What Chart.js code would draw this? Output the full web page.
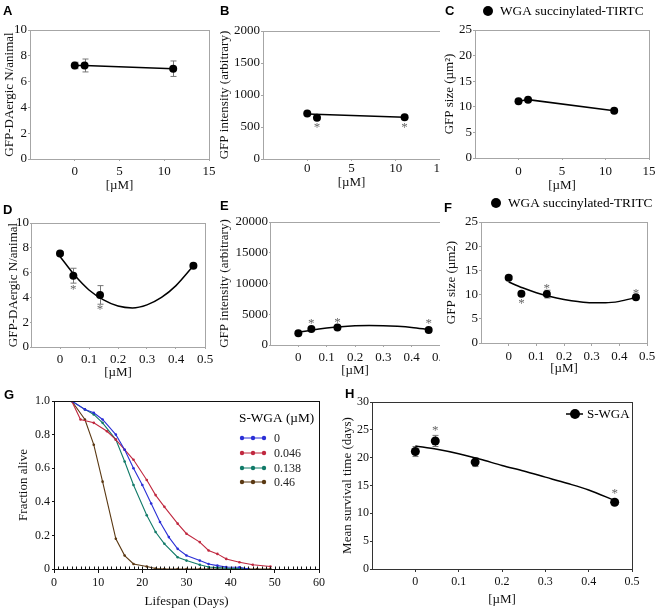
<!DOCTYPE html>
<html>
<head>
<meta charset="utf-8">
<script src="https://cdn.jsdelivr.net/npm/chart.js@4.4.1/dist/chart.umd.min.js"></script>
<style>
body { margin: 0; background: #fff; width: 661px; height: 609px; position: relative; overflow: hidden; }
canvas { position: absolute; }
</style>
</head>
<body>
<canvas id="cA"></canvas><canvas id="cB"></canvas><canvas id="cC"></canvas>
<canvas id="cD"></canvas><canvas id="cE"></canvas><canvas id="cF"></canvas>
<canvas id="cG"></canvas><canvas id="cH"></canvas>
<script>
// top row doses (uM)
const doseTop = [0, 1.1, 11];
const aMean = [7.25, 7.25, 7.0];
const aErr = [0.25, 0.5, 0.6];
const bMean = [712, 645, 652];
const bFitX = [0, 11];
const bFitY = [702, 652];
const bStarX = [1.1, 11];
const bStarY = [525, 525];
const cMean = [11.1, 11.4, 9.25];

// middle row + H doses
const dose = [0, 0.046, 0.138, 0.46];
const dMean = [7.55, 5.75, 4.2, 6.55];
const dErr = [0.15, 0.6, 0.75, 0.15];
const dStarX = [0.046, 0.138];
const dStarY = [4.85, 3.25];
const eMean = [1900, 2600, 2850, 2450];
const eErr = [0, 0, 0, 0];
const eStarX = [0.046, 0.138, 0.46];
const eStarY = [3850, 4100, 3850];
const fMean = [13.5, 10.2, 10.1, 9.45];
const fErr = [0.3, 0.4, 0.8, 0.3];
const fStarX = [0.046, 0.138, 0.46];
const fStarY = [8.65, 11.85, 10.8];
const hMean = [21.1, 23.0, 19.2, 12.0];
const hErr = [0.9, 1.0, 0.8, 0.4];
const hStarX = [0.046, 0.46];
const hStarY = [25.4, 14.0];

// fitted curves
const fitX = [0, 0.05, 0.1, 0.15, 0.2, 0.25, 0.3, 0.35, 0.4, 0.46];
const dFit = [7.3, 5.8, 4.6, 3.8, 3.3, 3.15, 3.4, 4.0, 4.95, 6.55];
const eFit = [2050, 2450, 2750, 2980, 3120, 3180, 3150, 3040, 2860, 2500];
const fFit = [12.6, 11.4, 10.4, 9.6, 9.0, 8.55, 8.3, 8.3, 8.6, 9.4];
const hFit = [22.1, 21.5, 20.7, 19.7, 18.6, 17.6, 16.5, 15.4, 14.2, 12.3];

// G survival curves
const gNames = ['0', '0.046', '0.138', '0.46'];
const gColors = ['#2b2fd6', '#c0283f', '#117a68', '#5a3812'];
const gDays = [
  [4, 7, 9, 11, 14, 16, 18, 20, 22, 24, 26, 28, 30, 33, 35, 37, 39, 42, 44],
  [4, 6, 9, 12, 14, 16, 18, 21, 23, 25, 28, 30, 33, 35, 37, 39, 42, 45, 49],
  [4, 7, 9, 11, 14, 16, 18, 21, 23, 25, 28, 30, 33, 35, 37, 39, 42, 44],
  [4, 7, 9, 11, 14, 16, 18, 21, 23, 25, 28, 30, 33, 35, 37, 39, 42, 44, 46, 49]
];
const gAlive = [
  [1.0, 0.95, 0.93, 0.89, 0.80, 0.71, 0.60, 0.50, 0.39, 0.28, 0.19, 0.12, 0.08, 0.05, 0.03, 0.02, 0.012, 0.01, 0.0],
  [1.0, 0.89, 0.87, 0.82, 0.77, 0.71, 0.65, 0.53, 0.44, 0.37, 0.27, 0.21, 0.16, 0.11, 0.09, 0.06, 0.04, 0.025, 0.015],
  [1.0, 0.95, 0.92, 0.87, 0.77, 0.64, 0.50, 0.32, 0.22, 0.15, 0.07, 0.05, 0.025, 0.012, 0.008, 0.005, 0.003, 0.0],
  [1.0, 0.89, 0.74, 0.52, 0.18, 0.08, 0.03, 0.015, 0.003, 0, 0, 0, 0, 0, 0, 0, 0, 0, 0, 0]
];

const serif = "'Liberation Serif', 'Times New Roman', serif";
const sans = "'Liberation Sans', Arial, sans-serif";
const pts = (xs, ys) => xs.map((x, i) => ({x: x, y: ys[i]}));

const extras = {};
const extrasPlugin = {
  id: 'extras',
  beforeDatasetsDraw(chart) {
    const e = extras[chart.canvas.id];
    if (!e.err) return;
    const {ctx, scales: {x, y}} = chart;
    ctx.save();
    ctx.strokeStyle = '#777';
    ctx.lineWidth = 1;
    e.err.x.forEach((xv, i) => {
      const d = e.err.e[i];
      if (!d) return;
      const px = Math.round(x.getPixelForValue(xv)) + 0.5;
      const y1 = y.getPixelForValue(e.err.y[i] + d), y2 = y.getPixelForValue(e.err.y[i] - d);
      ctx.beginPath();
      ctx.moveTo(px, y1); ctx.lineTo(px, y2);
      ctx.moveTo(px - 3, y1); ctx.lineTo(px + 3, y1);
      ctx.moveTo(px - 3, y2); ctx.lineTo(px + 3, y2);
      ctx.stroke();
    });
    ctx.restore();
  },
  afterDraw(chart) {
    const e = extras[chart.canvas.id];
    const {ctx, chartArea: a, scales: {x, y}} = chart;
    const ox = e.box.x, oy = e.box.y;
    ctx.save();
    // frame
    ctx.strokeStyle = e.frame;
    ctx.lineWidth = 1;
    ctx.strokeRect(Math.round(a.left) + 0.5, Math.round(a.top) + 0.5, Math.round(a.right - a.left), Math.round(a.bottom - a.top));
    if (e.minorX) {
      ctx.beginPath();
      for (let d = e.minorX.from; d <= e.minorX.to; d += e.minorX.step) {
        const px = Math.round(x.getPixelForValue(d)) + 0.5;
        ctx.moveTo(px, a.bottom); ctx.lineTo(px, a.bottom - 2.5);
      }
      ctx.stroke();
    }
    // asterisks
    if (e.stars) {
      ctx.fillStyle = '#666';
      ctx.font = '13px ' + serif;
      ctx.textAlign = 'center';
      ctx.textBaseline = 'alphabetic';
      e.stars.x.forEach((xv, i) => {
        ctx.fillText('*', x.getPixelForValue(xv), y.getPixelForValue(e.stars.y[i]) + 6);
      });
    }
    // panel letter
    ctx.fillStyle = '#000';
    ctx.font = 'bold 13px ' + sans;
    ctx.textAlign = 'left';
    ctx.textBaseline = 'middle';
    ctx.fillText(e.letter.t, e.letter.x - ox, e.letter.y - oy);
    // legends
    const lg = e.legend;
    if (lg && lg.type === 'dot') {
      ctx.beginPath();
      ctx.arc(lg.x - ox, lg.y - oy, lg.r, 0, Math.PI * 2);
      ctx.fill();
      if (lg.line) {
        ctx.strokeStyle = '#000'; ctx.lineWidth = 1.5;
        ctx.beginPath(); ctx.moveTo(lg.x - ox - 9, lg.y - oy); ctx.lineTo(lg.x - ox + 8, lg.y - oy); ctx.stroke();
      }
      ctx.font = lg.size + 'px ' + serif;
      ctx.fillText(lg.text, lg.tx - ox, lg.y - oy + 1);
    }
    if (lg && lg.type === 'lines') {
      ctx.font = '13.3px ' + serif;
      ctx.fillText(lg.title, lg.x - ox, lg.ty - oy);
      ctx.font = '12px ' + serif;
      gNames.forEach((n, i) => {
        const yy = lg.ys[i] - oy, x0 = lg.x - ox + 3;
        ctx.strokeStyle = gColors[i]; ctx.fillStyle = gColors[i]; ctx.lineWidth = 1;
        ctx.beginPath(); ctx.moveTo(x0, yy); ctx.lineTo(x0 + 22, yy); ctx.stroke();
        [0, 11, 22].forEach(dx => { ctx.beginPath(); ctx.arc(x0 + dx, yy, 2.2, 0, Math.PI * 2); ctx.fill(); });
        ctx.fillStyle = '#222';
        ctx.fillText(n, lg.x - ox + 35, yy + 1);
      });
    }
    ctx.restore();
  }
};

function panel(id, box, area, o) {
  const cv = document.getElementById(id);
  cv.width = box.w; cv.height = box.h;
  cv.style.left = box.x + 'px'; cv.style.top = box.y + 'px';
  extras[id] = Object.assign({box: box, frame: o.frame}, o.extra);
  const yW = area.l - box.x, xH = box.y + box.h - area.b;
  const tick = {family: serif, size: o.tickSize};
  const ttl = {family: serif, size: o.titleSize};
  new Chart(cv, {
    type: 'scatter',
    data: {datasets: o.datasets},
    options: {
      responsive: false, animation: false, events: [],
      layout: {padding: {left: 0, top: area.t - box.y, right: box.x + box.w - area.r, bottom: 0}, autoPadding: false},
      plugins: {legend: {display: false}, tooltip: {enabled: false}},
      scales: {
        x: {
          type: 'linear', min: o.x.min, max: o.x.max,
          ticks: {stepSize: o.x.step, autoSkip: false, maxRotation: 0, padding: o.x.pad, color: '#111', font: tick, callback: o.x.fmt},
          grid: {drawOnChartArea: false, tickLength: o.x.tl, color: o.frame},
          border: {display: false},
          title: {display: true, text: o.x.title, color: '#111', font: ttl, padding: {top: 0, bottom: o.x.tp}},
          afterFit: s => { s.height = xH; s.paddingLeft = 0; s.paddingRight = 0; }
        },
        y: {
          type: 'linear', min: o.y.min, max: o.y.max,
          ticks: {stepSize: o.y.step, autoSkip: false, padding: o.y.pad, color: '#111', font: tick, callback: o.y.fmt},
          grid: {drawOnChartArea: false, tickLength: o.y.tl, color: o.frame},
          border: {display: false},
          title: {display: true, text: o.y.title, color: '#111', font: ttl, padding: {top: o.y.tp, bottom: 0}},
          afterFit: s => { s.width = yW; s.paddingTop = 0; s.paddingBottom = 0; }
        }
      }
    },
    plugins: [extrasPlugin]
  });
}

const fmtInt = v => v < 0 ? null : String(v);
const fmtDec = v => v < -1e-9 ? null : (Math.abs(v) < 1e-9 ? '0' : v.toFixed(1));
const dots = (xs, ys, r, line) => ({data: pts(xs, ys), pointRadius: r, pointBorderWidth: 0, pointBackgroundColor: '#000', pointBorderColor: '#000', showLine: !!line, borderColor: '#000', borderWidth: 1.5});
const curve = (xs, ys) => ({data: pts(xs, ys), pointRadius: 0, showLine: true, borderColor: '#000', borderWidth: 1.5, cubicInterpolationMode: 'monotone'});
const grayFrame = '#a6a6a6';

panel('cA', {x: 0, y: 0, w: 220, h: 198}, {l: 30, t: 30, r: 209, b: 159}, {
  frame: grayFrame, tickSize: 13, titleSize: 13,
  datasets: [dots(doseTop, aMean, 4, true)],
  x: {min: -5, max: 15, step: 5, fmt: fmtInt, pad: 3, tl: 2, title: '[µM]', tp: 5},
  y: {min: 0, max: 10, step: 2, fmt: fmtInt, pad: 1, tl: 2, title: 'GFP-DAergic N/animal', tp: 2},
  extra: {err: {x: doseTop, y: aMean, e: aErr}, letter: {t: 'A', x: 3, y: 11}}
});

panel('cB', {x: 220, y: 0, w: 220, h: 198}, {l: 263, t: 31, r: 440, b: 159}, {
  frame: grayFrame, tickSize: 13, titleSize: 13,
  datasets: [dots(doseTop, bMean, 4, false), curve(bFitX, bFitY)],
  x: {min: -5, max: 15, step: 5, fmt: fmtInt, pad: 0, tl: 2, title: '[µM]', tp: 7.5},
  y: {min: 0, max: 2000, step: 500, fmt: fmtInt, pad: 1, tl: 2, title: 'GFP intensity (arbitrary)', tp: -3},
  extra: {stars: {x: bStarX, y: bStarY}, letter: {t: 'B', x: 220, y: 11}}
});

panel('cC', {x: 440, y: 0, w: 221, h: 198}, {l: 475, t: 30, r: 649, b: 158}, {
  frame: grayFrame, tickSize: 13, titleSize: 13,
  datasets: [dots(doseTop, cMean, 4, true)],
  x: {min: -5, max: 15, step: 5, fmt: fmtInt, pad: 4, tl: 2, title: '[µM]', tp: 5},
  y: {min: 0, max: 25, step: 5, fmt: fmtInt, pad: 1, tl: 2, title: 'GFP size (µm²)', tp: 2},
  extra: {letter: {t: 'C', x: 445, y: 11},
    legend: {type: 'dot', x: 488, y: 11, r: 5, tx: 500, size: 13.3, text: 'WGA succinylated-TIRTC'}}
});

panel('cD', {x: 0, y: 195, w: 220, h: 192}, {l: 31, t: 223, r: 205, b: 347}, {
  frame: grayFrame, tickSize: 13, titleSize: 13,
  datasets: [dots(dose, dMean, 4, false), curve(fitX, dFit)],
  x: {min: -0.1, max: 0.5, step: 0.1, fmt: fmtDec, pad: 3, tl: 2, title: '[µM]', tp: 7},
  y: {min: 0, max: 10, step: 2, fmt: fmtInt, pad: 1, tl: 1, title: 'GFP-DAergic N/animal', tp: 6},
  extra: {err: {x: dose, y: dMean, e: dErr}, stars: {x: dStarX, y: dStarY}, letter: {t: 'D', x: 3, y: 210}}
});

panel('cE', {x: 220, y: 195, w: 220, h: 192}, {l: 270, t: 222, r: 440, b: 345}, {
  frame: grayFrame, tickSize: 13, titleSize: 13,
  datasets: [dots(dose, eMean, 4, false), curve(fitX, eFit)],
  x: {min: -0.1, max: 0.5, step: 0.1, fmt: fmtDec, pad: 3, tl: 2, title: '[µM]', tp: 9},
  y: {min: 0, max: 20000, step: 5000, fmt: fmtInt, pad: 1, tl: 1, title: 'GFP intensity (arbitrary)', tp: -3},
  extra: {err: {x: dose, y: eMean, e: eErr}, stars: {x: eStarX, y: eStarY}, letter: {t: 'E', x: 220, y: 206}}
});

panel('cF', {x: 440, y: 195, w: 221, h: 192}, {l: 481, t: 222, r: 647, b: 343}, {
  frame: grayFrame, tickSize: 13, titleSize: 13,
  datasets: [dots(dose, fMean, 4, false), curve(fitX, fFit)],
  x: {min: -0.1, max: 0.5, step: 0.1, fmt: fmtDec, pad: 3, tl: 3, title: '[µM]', tp: 11},
  y: {min: 0, max: 25, step: 5, fmt: fmtInt, pad: 1, tl: 2, title: 'GFP size (µm2)', tp: 4},
  extra: {err: {x: dose, y: fMean, e: fErr}, stars: {x: fStarX, y: fStarY}, letter: {t: 'F', x: 444, y: 208},
    legend: {type: 'dot', x: 496, y: 203, r: 5, tx: 508, size: 13.3, text: 'WGA succinylated-TRITC'}}
});

panel('cG', {x: 0, y: 388, w: 330, h: 221}, {l: 54, t: 401, r: 319, b: 569}, {
  frame: '#111', tickSize: 12, titleSize: 13,
  datasets: gNames.map((n, i) => ({label: n, data: pts(gDays[i], gAlive[i]), showLine: true, borderColor: gColors[i], borderWidth: 1.1, pointRadius: 1.3, pointBackgroundColor: gColors[i], pointBorderWidth: 0})),
  x: {min: 0, max: 60, step: 10, fmt: fmtInt, pad: 3, tl: 4, title: 'Lifespan (Days)', tp: 0},
  y: {min: 0, max: 1, step: 0.2, fmt: v => v === 0 ? '0' : v.toFixed(1), pad: 2, tl: 2, title: 'Fraction alive', tp: 16},
  extra: {minorX: {from: 0, to: 60, step: 1}, letter: {t: 'G', x: 4, y: 395},
    legend: {type: 'lines', x: 239, title: 'S-WGA (µM)', ty: 419, ys: [438, 453, 468, 482]}}
});

panel('cH', {x: 330, y: 388, w: 331, h: 221}, {l: 372, t: 402, r: 632, b: 569}, {
  frame: '#333', tickSize: 12, titleSize: 13,
  datasets: [dots(dose, hMean, 4.5, false), curve(fitX, hFit)],
  x: {min: -0.1, max: 0.5, step: 0.1, fmt: fmtDec, pad: 3, tl: 3, title: '[µM]', tp: 2},
  y: {min: 0, max: 30, step: 5, fmt: fmtInt, pad: 1, tl: 2, title: 'Mean survival time (days)', tp: 10},
  extra: {err: {x: dose, y: hMean, e: hErr}, stars: {x: hStarX, y: hStarY}, letter: {t: 'H', x: 345, y: 394},
    legend: {type: 'dot', line: true, x: 575, y: 414, r: 5, tx: 587, size: 13, text: 'S-WGA'}}
});
</script>
</body>
</html>
